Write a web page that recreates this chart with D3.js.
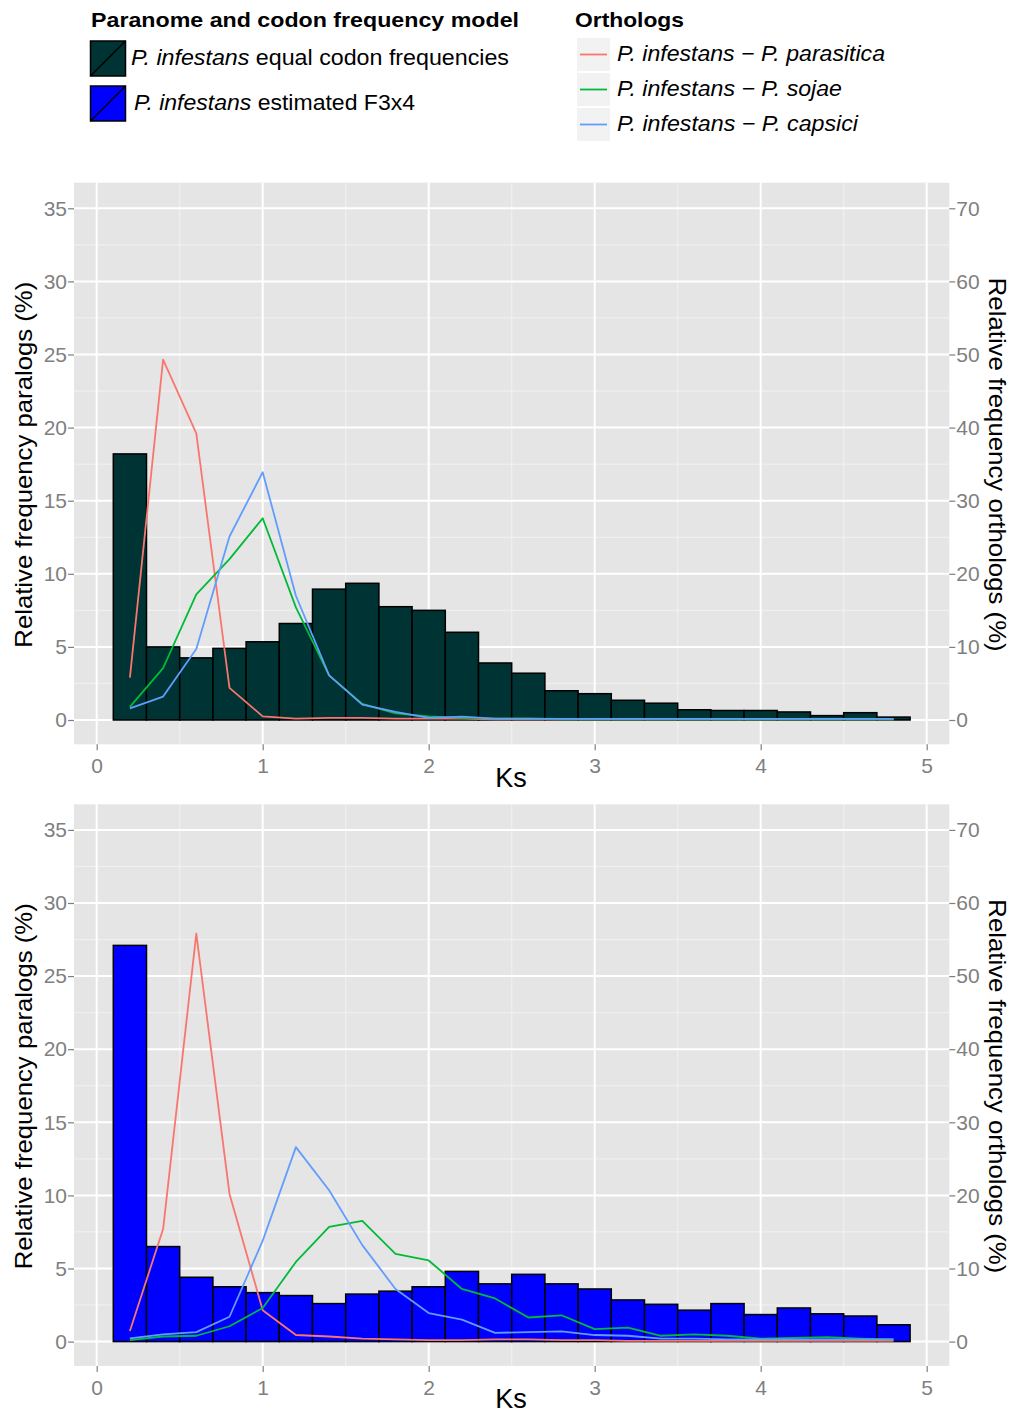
<!DOCTYPE html>
<html><head><meta charset="utf-8">
<script src="https://cdn.jsdelivr.net/npm/d3@7"></script>
<style>
body{margin:0;background:#fff;}
text{font-family:"Liberation Sans",Arial,Helvetica,sans-serif;}
</style>
</head><body>
<svg id="chart" width="1014" height="1414"></svg>
<script>
// ---------- DATA ----------
const ks = [0.2,0.4,0.6,0.8,1.0,1.2,1.4,1.6,1.8,2.0,2.2,2.4,2.6,2.8,3.0,3.2,3.4,3.6,3.8,4.0,4.2,4.4,4.6,4.8];
const binWidth = 0.2;
// paralog histograms (% , left axis)
const paralogsEqual = [18.2,5.0,4.25,4.9,5.35,6.6,8.95,9.35,7.75,7.5,6.0,3.9,3.2,2.0,1.8,1.35,1.15,0.7,0.65,0.65,0.55,0.3,0.5,0.2];
const paralogsF3x4  = [27.1,6.5,4.4,3.75,3.35,3.15,2.6,3.25,3.45,3.75,4.8,3.95,4.6,3.95,3.6,2.85,2.55,2.15,2.6,1.85,2.3,1.9,1.75,1.15];
// ortholog distributions (% , right axis)
const parasiticaEqual = [5.8,49.3,39.2,4.4,0.5,0.2,0.3,0.3,0.2,0.2,0.2,0.1,0.1,0.1,0.1,0.1,0.1,0.1,0.1,0.1,0.1,0.1,0.1,0.1];
const sojaeEqual      = [1.8,7.1,17.2,22.0,27.6,15.4,6.1,2.2,0.9,0.5,0.3,0.2,0.2,0.1,0.1,0.1,0.1,0.1,0.1,0.1,0.1,0.1,0.1,0.1];
const capsiciEqual    = [1.6,3.2,9.7,25.1,33.9,17.0,6.1,2.1,1.1,0.3,0.45,0.2,0.2,0.15,0.15,0.15,0.15,0.15,0.15,0.15,0.15,0.15,0.15,0.15];
const parasiticaF3x4  = [1.45,15.4,55.8,20.2,4.3,0.9,0.7,0.4,0.3,0.2,0.2,0.3,0.3,0.2,0.2,0.1,0.1,0.1,0.1,0.1,0.1,0.1,0.1,0.1];
const sojaeF3x4       = [0.2,0.7,0.8,2.1,4.6,10.9,15.7,16.5,12.0,11.1,7.2,5.9,3.3,3.6,1.7,1.9,0.8,1.0,0.8,0.4,0.5,0.6,0.4,0.3];
const capsiciF3x4     = [0.45,1.0,1.3,3.4,13.8,26.6,20.7,13.2,7.2,3.9,3.0,1.2,1.3,1.4,0.9,0.8,0.4,0.4,0.3,0.3,0.3,0.3,0.3,0.3];
const leftTicks  = [0,5,10,15,20,25,30,35];
const rightTicks = [0,10,20,30,40,50,60,70];
const xTicks     = [0,1,2,3,4,5];
const xMinor     = [0.5,1.5,2.5,3.5,4.5];
const yMinor     = [2.5,7.5,12.5,17.5,22.5,27.5,32.5];
const modelNames = ["equal codon frequencies","estimated F3x4"];
const orthoNames = ["P. parasitica","P. sojae","P. capsici"];
const orthoColors = ["#F8766D","#00BA38","#619CFF"];
const barColors = ["#003333","#0000FF"];

// ---------- LAYOUT ----------
const svg = d3.select("#chart");
const panelLeft = 74, panelRight = 949.3, panelH = 561.6;
const panelTops = [182.7, 804.3];
const grey = "#7F7F7F";
const x = d3.scaleLinear().domain([0,5]).range([96.7,926.7]);

function drawPanel(top, bars, fill, lines, idx){
  const zeroY = top + 537.3;
  const y = d3.scaleLinear().domain([0,35]).range([zeroY, top + 25.6]);
  const yR = d3.scaleLinear().domain([0,70]).range([zeroY, top + 25.6]);
  const g = svg.append("g");
  const cid = "clip"+idx;
  svg.append("clipPath").attr("id",cid).append("rect")
    .attr("x",panelLeft).attr("y",top).attr("width",panelRight-panelLeft).attr("height",panelH);
  g.append("rect").attr("x",panelLeft).attr("y",top).attr("width",panelRight-panelLeft).attr("height",panelH).attr("fill","#E5E5E5");
  // minor grid
  g.selectAll(".xm").data(xMinor).join("line").attr("x1",d=>x(d)).attr("x2",d=>x(d)).attr("y1",top).attr("y2",top+panelH).attr("stroke","#F2F2F2").attr("stroke-width",1);
  g.selectAll(".ym").data(yMinor).join("line").attr("y1",d=>y(d)).attr("y2",d=>y(d)).attr("x1",panelLeft).attr("x2",panelRight).attr("stroke","#F2F2F2").attr("stroke-width",1);
  // major grid
  g.selectAll(".xM").data(xTicks).join("line").attr("x1",d=>x(d)).attr("x2",d=>x(d)).attr("y1",top).attr("y2",top+panelH).attr("stroke","#FFFFFF").attr("stroke-width",2);
  g.selectAll(".yM").data(leftTicks).join("line").attr("y1",d=>y(d)).attr("y2",d=>y(d)).attr("x1",panelLeft).attr("x2",panelRight).attr("stroke","#FFFFFF").attr("stroke-width",2);
  // bars
  g.selectAll(".bar").data(bars).join("rect")
    .attr("x",(d,i)=>x(ks[i]-binWidth/2)).attr("width",(d,i)=>x(ks[i]+binWidth/2)-x(ks[i]-binWidth/2))
    .attr("y",d=>y(d)).attr("height",d=>zeroY-y(d))
    .attr("fill",fill).attr("stroke","#000").attr("stroke-width",1.5);
  // lines
  const lg = g.append("g").attr("clip-path",`url(#${cid})`);
  const line = d3.line().x((d,i)=>x(ks[i])).y(d=>yR(d));
  lines.forEach((s,j)=>{
    lg.append("path").datum(s).attr("d",line).attr("fill","none").attr("stroke",orthoColors[j]).attr("stroke-width",1.8).attr("stroke-linejoin","round");
  });
  // axes
  const ax = svg.append("g").attr("transform",`translate(${panelLeft},0)`)
    .call(d3.axisLeft(y).tickValues(leftTicks).tickSize(6).tickPadding(1));
  const axR = svg.append("g").attr("transform",`translate(${panelRight},0)`)
    .call(d3.axisRight(yR).tickValues(rightTicks).tickSize(6).tickPadding(1));
  const axB = svg.append("g").attr("transform",`translate(0,${top+panelH})`)
    .call(d3.axisBottom(x).tickValues(xTicks).tickSize(6).tickPadding(8).tickFormat(d3.format("d")));
  [ax,axR,axB].forEach(a=>{
    a.select(".domain").remove();
    a.selectAll(".tick line").attr("stroke",grey).attr("stroke-width",1.2);
    a.selectAll(".tick text").attr("fill",grey).attr("font-size",21).attr("font-family","Liberation Sans, Arial, sans-serif");
  });
  // axis titles
  svg.append("text").attr("transform",`translate(32,${top+282})rotate(-90)`).attr("text-anchor","middle")
    .attr("font-size",24).attr("textLength",366).attr("lengthAdjust","spacingAndGlyphs").text("Relative frequency paralogs (%)");
  svg.append("text").attr("transform",`translate(989,${top+282})rotate(90)`).attr("text-anchor","middle")
    .attr("font-size",24).attr("textLength",374).attr("lengthAdjust","spacingAndGlyphs").text("Relative frequency orthologs (%)");
  svg.append("text").attr("x",511).attr("y",top+604).attr("text-anchor","middle").attr("font-size",27).text("Ks");
}

drawPanel(panelTops[0], paralogsEqual, barColors[0], [parasiticaEqual,sojaeEqual,capsiciEqual], 0);
drawPanel(panelTops[1], paralogsF3x4, barColors[1], [parasiticaF3x4,sojaeF3x4,capsiciF3x4], 1);

// ---------- LEGENDS ----------
const L = svg.append("g");
L.append("text").attr("x",91).attr("y",27).attr("font-weight","bold").attr("font-size",21)
  .attr("textLength",428).attr("lengthAdjust","spacingAndGlyphs").text("Paranome and codon frequency model");
const keyY = [41, 86];
const keyTextX = [131, 134];
const keyTextW = [378, 281];
modelNames.forEach((n,i)=>{
  L.append("rect").attr("x",90.5).attr("y",keyY[i]).attr("width",35).attr("height",35).attr("fill",barColors[i]).attr("stroke","#000").attr("stroke-width",1.5);
  L.append("line").attr("x1",90.5).attr("y1",keyY[i]+35).attr("x2",125.5).attr("y2",keyY[i]).attr("stroke","#000").attr("stroke-width",1.5);
  const t = L.append("text").attr("x",keyTextX[i]).attr("y",keyY[i]+24).attr("font-size",22)
    .attr("textLength",keyTextW[i]).attr("lengthAdjust","spacingAndGlyphs");
  t.append("tspan").attr("font-style","italic").text("P. infestans");
  t.append("tspan").text(" "+n);
});
L.append("text").attr("x",575).attr("y",27).attr("font-weight","bold").attr("font-size",21)
  .attr("textLength",109).attr("lengthAdjust","spacingAndGlyphs").text("Orthologs");
const rowY = [38, 73, 108];
const orthoW = [268, 225, 241];
orthoNames.forEach((n,i)=>{
  L.append("rect").attr("x",577).attr("y",rowY[i]).attr("width",33).attr("height",33).attr("fill","#F2F2F2");
  L.append("line").attr("x1",580).attr("x2",607).attr("y1",rowY[i]+16.5).attr("y2",rowY[i]+16.5).attr("stroke",orthoColors[i]).attr("stroke-width",1.8);
  L.append("text").attr("x",617).attr("y",rowY[i]+23).attr("font-size",22).attr("font-style","italic")
    .attr("textLength",orthoW[i]).attr("lengthAdjust","spacingAndGlyphs").text("P. infestans \u2212 "+n);
});
</script>
</body></html>
